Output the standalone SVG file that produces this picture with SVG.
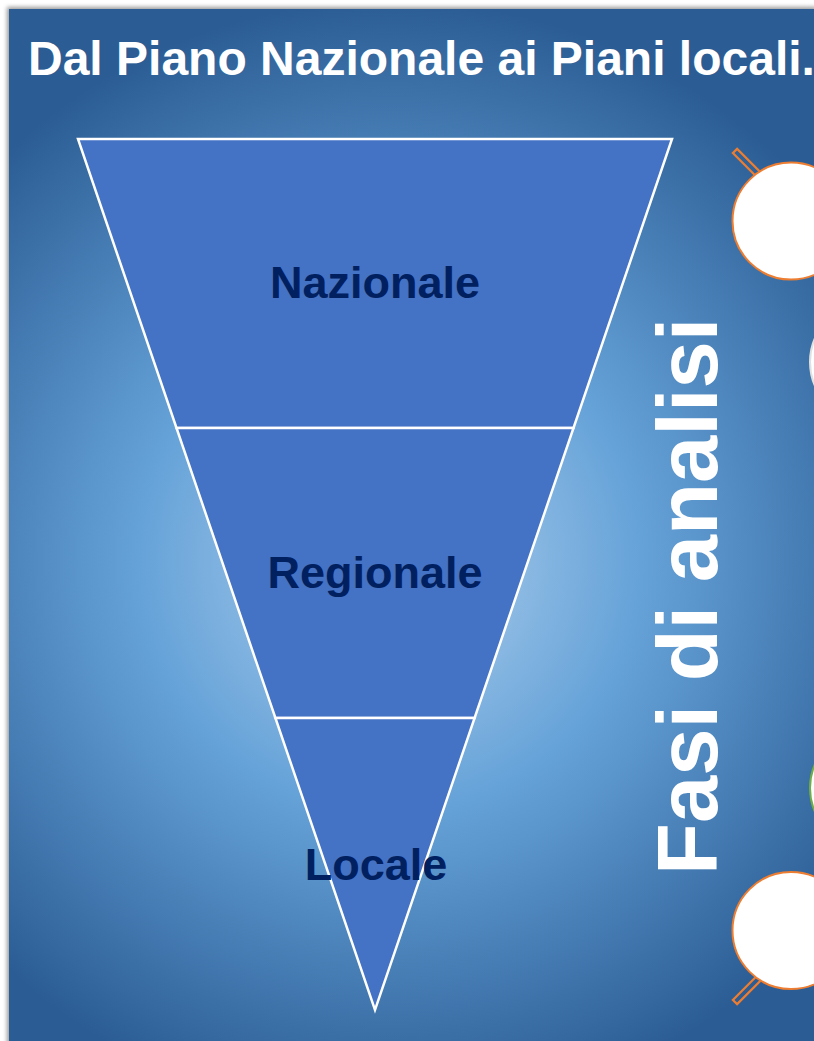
<svg xmlns="http://www.w3.org/2000/svg" width="814" height="1041" viewBox="0 0 814 1041">
  <defs>
    <radialGradient id="bg" cx="390" cy="560" r="560" gradientUnits="userSpaceOnUse">
      <stop offset="0" stop-color="#b4d2ee"/>
      <stop offset="0.45" stop-color="#65a2d8"/>
      <stop offset="1" stop-color="#2b5d94"/>
    </radialGradient>
    <filter id="sh" x="-5%" y="-5%" width="110%" height="110%">
      <feGaussianBlur stdDeviation="2"/>
    </filter>
  </defs>
  <style>
    .lvl { fill: #4472c4; stroke: #ffffff; stroke-width: 2.5; stroke-linejoin: miter; }
    .lbl { font-family: "Liberation Sans", Arial, sans-serif; font-weight: bold; font-size: 45px; fill: #002060; text-anchor: middle; }
    .wt { font-family: "Liberation Sans", Arial, sans-serif; font-weight: bold; fill: #ffffff; }
    .circ { fill: #ffffff; stroke-width: 2; }
    .handle { fill: none; stroke: #ed7d31; stroke-width: 2.2; }
  </style>
  <rect x="0" y="0" width="814" height="1041" fill="#ffffff"/>
  <rect x="7" y="7" width="810" height="1040" fill="#9a9a9a" filter="url(#sh)"/>
  <rect x="9" y="9" width="805" height="1032" fill="url(#bg)"/>

  <text class="wt" x="28" y="75" font-size="48">Dal Piano Nazionale ai Piani locali.</text>

  <g id="nazionale">
    <polygon class="lvl" points="78,139 672,139 573.5,428 176.5,428"/>
    <text class="lbl" x="375" y="298">Nazionale</text>
  </g>
  <g id="regionale">
    <polygon class="lvl" points="176.5,428 573.5,428 474.6,718 275.4,718"/>
    <text class="lbl" x="375" y="588">Regionale</text>
  </g>
  <g id="locale">
    <polygon class="lvl" points="275.4,718 474.6,718 375,1010"/>
    <text class="lbl" x="376" y="880">Locale</text>
  </g>

  <text class="wt" font-size="85" transform="translate(717,875) rotate(-90)">Fasi di analisi</text>

  <g id="circle-top">
    <rect class="handle" x="0" y="-3" width="38" height="6" transform="translate(735,151) rotate(45)"/>
    <circle class="circ" cx="791" cy="221" r="58.5" stroke="#ed7d31"/>
  </g>
  <g id="circle-mid1">
    <circle class="circ" cx="868" cy="362" r="58" stroke="#e0e0e0"/>
  </g>
  <g id="circle-mid2">
    <circle class="circ" cx="868" cy="788" r="58" stroke="#70ad47"/>
  </g>
  <g id="circle-bottom">
    <rect class="handle" x="0" y="-3" width="38" height="6" transform="translate(735,1002) rotate(-45)"/>
    <circle class="circ" cx="791" cy="930.5" r="58.5" stroke="#ed7d31"/>
  </g>
  <g id="connectors"/>
</svg>
